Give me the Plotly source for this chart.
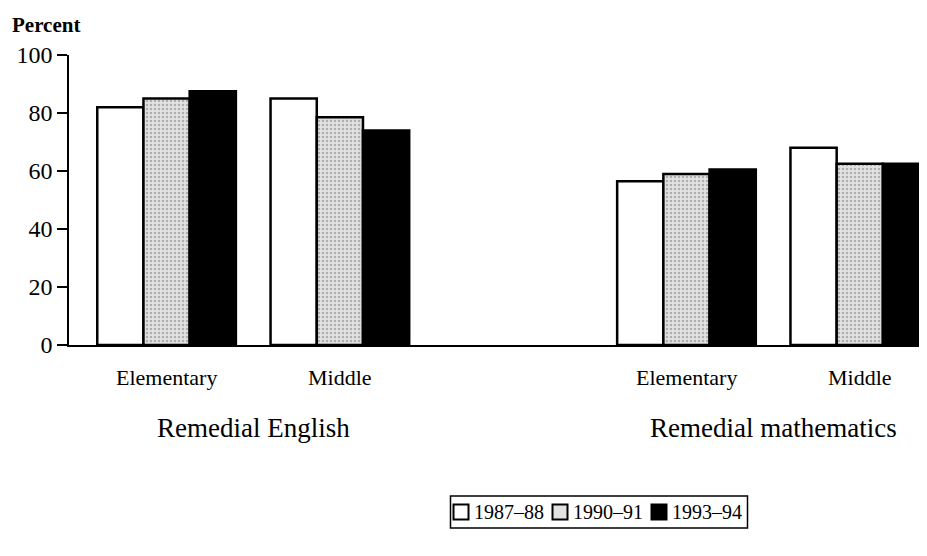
import plotly.graph_objects as go

positions = [0, 1, 3, 4]
level_labels = ["Elementary", "Middle", "Elementary", "Middle"]
subject_labels = ["Remedial English", "Remedial mathematics"]
series_names = ["1987–88", "1990–91", "1993–94"]
vals_1987 = [82, 85, 56.5, 68]
vals_1990 = [85, 78.5, 59, 62.5]
vals_1993 = [87.5, 74, 60.5, 62.5]
y_ticks = [0, 20, 40, 60, 80, 100]

FONT = "Liberation Serif, Times New Roman, serif"
W, H = 927, 556
L, R, T, B = 61, 0, 47, 219
PW, PH = W - L - R, H - T - B


def xp(px):
    return (px - L) / PW


def yp(py):
    return (H - B - py) / PH


fills = ["white", "#e2e2e2", "black"]
patterns = [None, dict(shape=".", fgcolor="#7a7a7a", size=4, solidity=0.3), None]

fig = go.Figure()
for name, vals, fc, pat in zip(series_names, [vals_1987, vals_1990, vals_1993], fills, patterns):
    marker = dict(color=fc, line=dict(color="black", width=2.5))
    if pat:
        marker["pattern"] = pat
    fig.add_trace(go.Bar(x=positions, y=vals, name=name, marker=marker, showlegend=False))

for p, lab in zip(positions, level_labels):
    fig.add_annotation(x=p, y=yp(384), xref="x", yref="paper", text=lab,
                       showarrow=False, font=dict(family=FONT, size=22, color="black"))
for (a, b), lab in zip([(0, 1), (3, 4)], subject_labels):
    fig.add_annotation(x=(a + b) / 2, y=yp(437), xref="x", yref="paper", text=lab,
                       showarrow=False, font=dict(family=FONT, size=27, color="black"))

fig.add_annotation(x=xp(2), y=yp(17), xref="paper", yref="paper", text="<b>Percent</b>",
                   showarrow=False, xanchor="left", yanchor="middle",
                   font=dict(family=FONT, size=21, color="black"))

# compact boxed legend
lf = 20
text_w = 3.75 * lf
sq, gap_t, gap_i, pad = 15, 3, 6, 3
total = pad * 2 + len(series_names) * (sq + gap_t + text_w) + (len(series_names) - 1) * gap_i
cx, cy = 591, 504
x0 = cx - total / 2
box_h = 32
fig.add_shape(type="rect", xref="paper", yref="paper",
              x0=xp(x0), x1=xp(x0 + total), y0=yp(cy + box_h / 2), y1=yp(cy - box_h / 2),
              line=dict(color="black", width=1.5), fillcolor="rgba(0,0,0,0)")
xc = x0 + pad
for name, fc in zip(series_names, fills):
    fig.add_shape(type="rect", xref="paper", yref="paper",
                  x0=xp(xc), x1=xp(xc + sq), y0=yp(cy + sq / 2), y1=yp(cy - sq / 2),
                  line=dict(color="black", width=2), fillcolor=fc)
    fig.add_annotation(x=xp(xc + sq + gap_t), y=yp(cy), xref="paper", yref="paper",
                       text=name, showarrow=False, xanchor="left", yanchor="middle",
                       font=dict(family=FONT, size=lf, color="black"))
    xc += sq + gap_t + text_w + gap_i

fig.update_layout(
    width=W, height=H,
    margin=dict(l=L, r=R, t=T, b=B, autoexpand=False),
    paper_bgcolor="white", plot_bgcolor="white",
    barmode="group", bargap=0.2, bargroupgap=0,
    font=dict(family=FONT, color="black"),
    showlegend=False,
    xaxis=dict(range=[-0.563, 4.434], showticklabels=False, ticks="", showgrid=False,
               zeroline=False, showline=True, linecolor="black", linewidth=1.5,
               automargin=False),
    yaxis=dict(range=[0, 100], tickvals=y_ticks, ticks="outside", ticklen=10,
               tickcolor="black", tickwidth=1.5, showgrid=False, zeroline=False,
               showline=True, linecolor="black", linewidth=1.5, automargin=False,
               tickfont=dict(family=FONT, size=24, color="black")),
)

fig.write_html("out.html")
